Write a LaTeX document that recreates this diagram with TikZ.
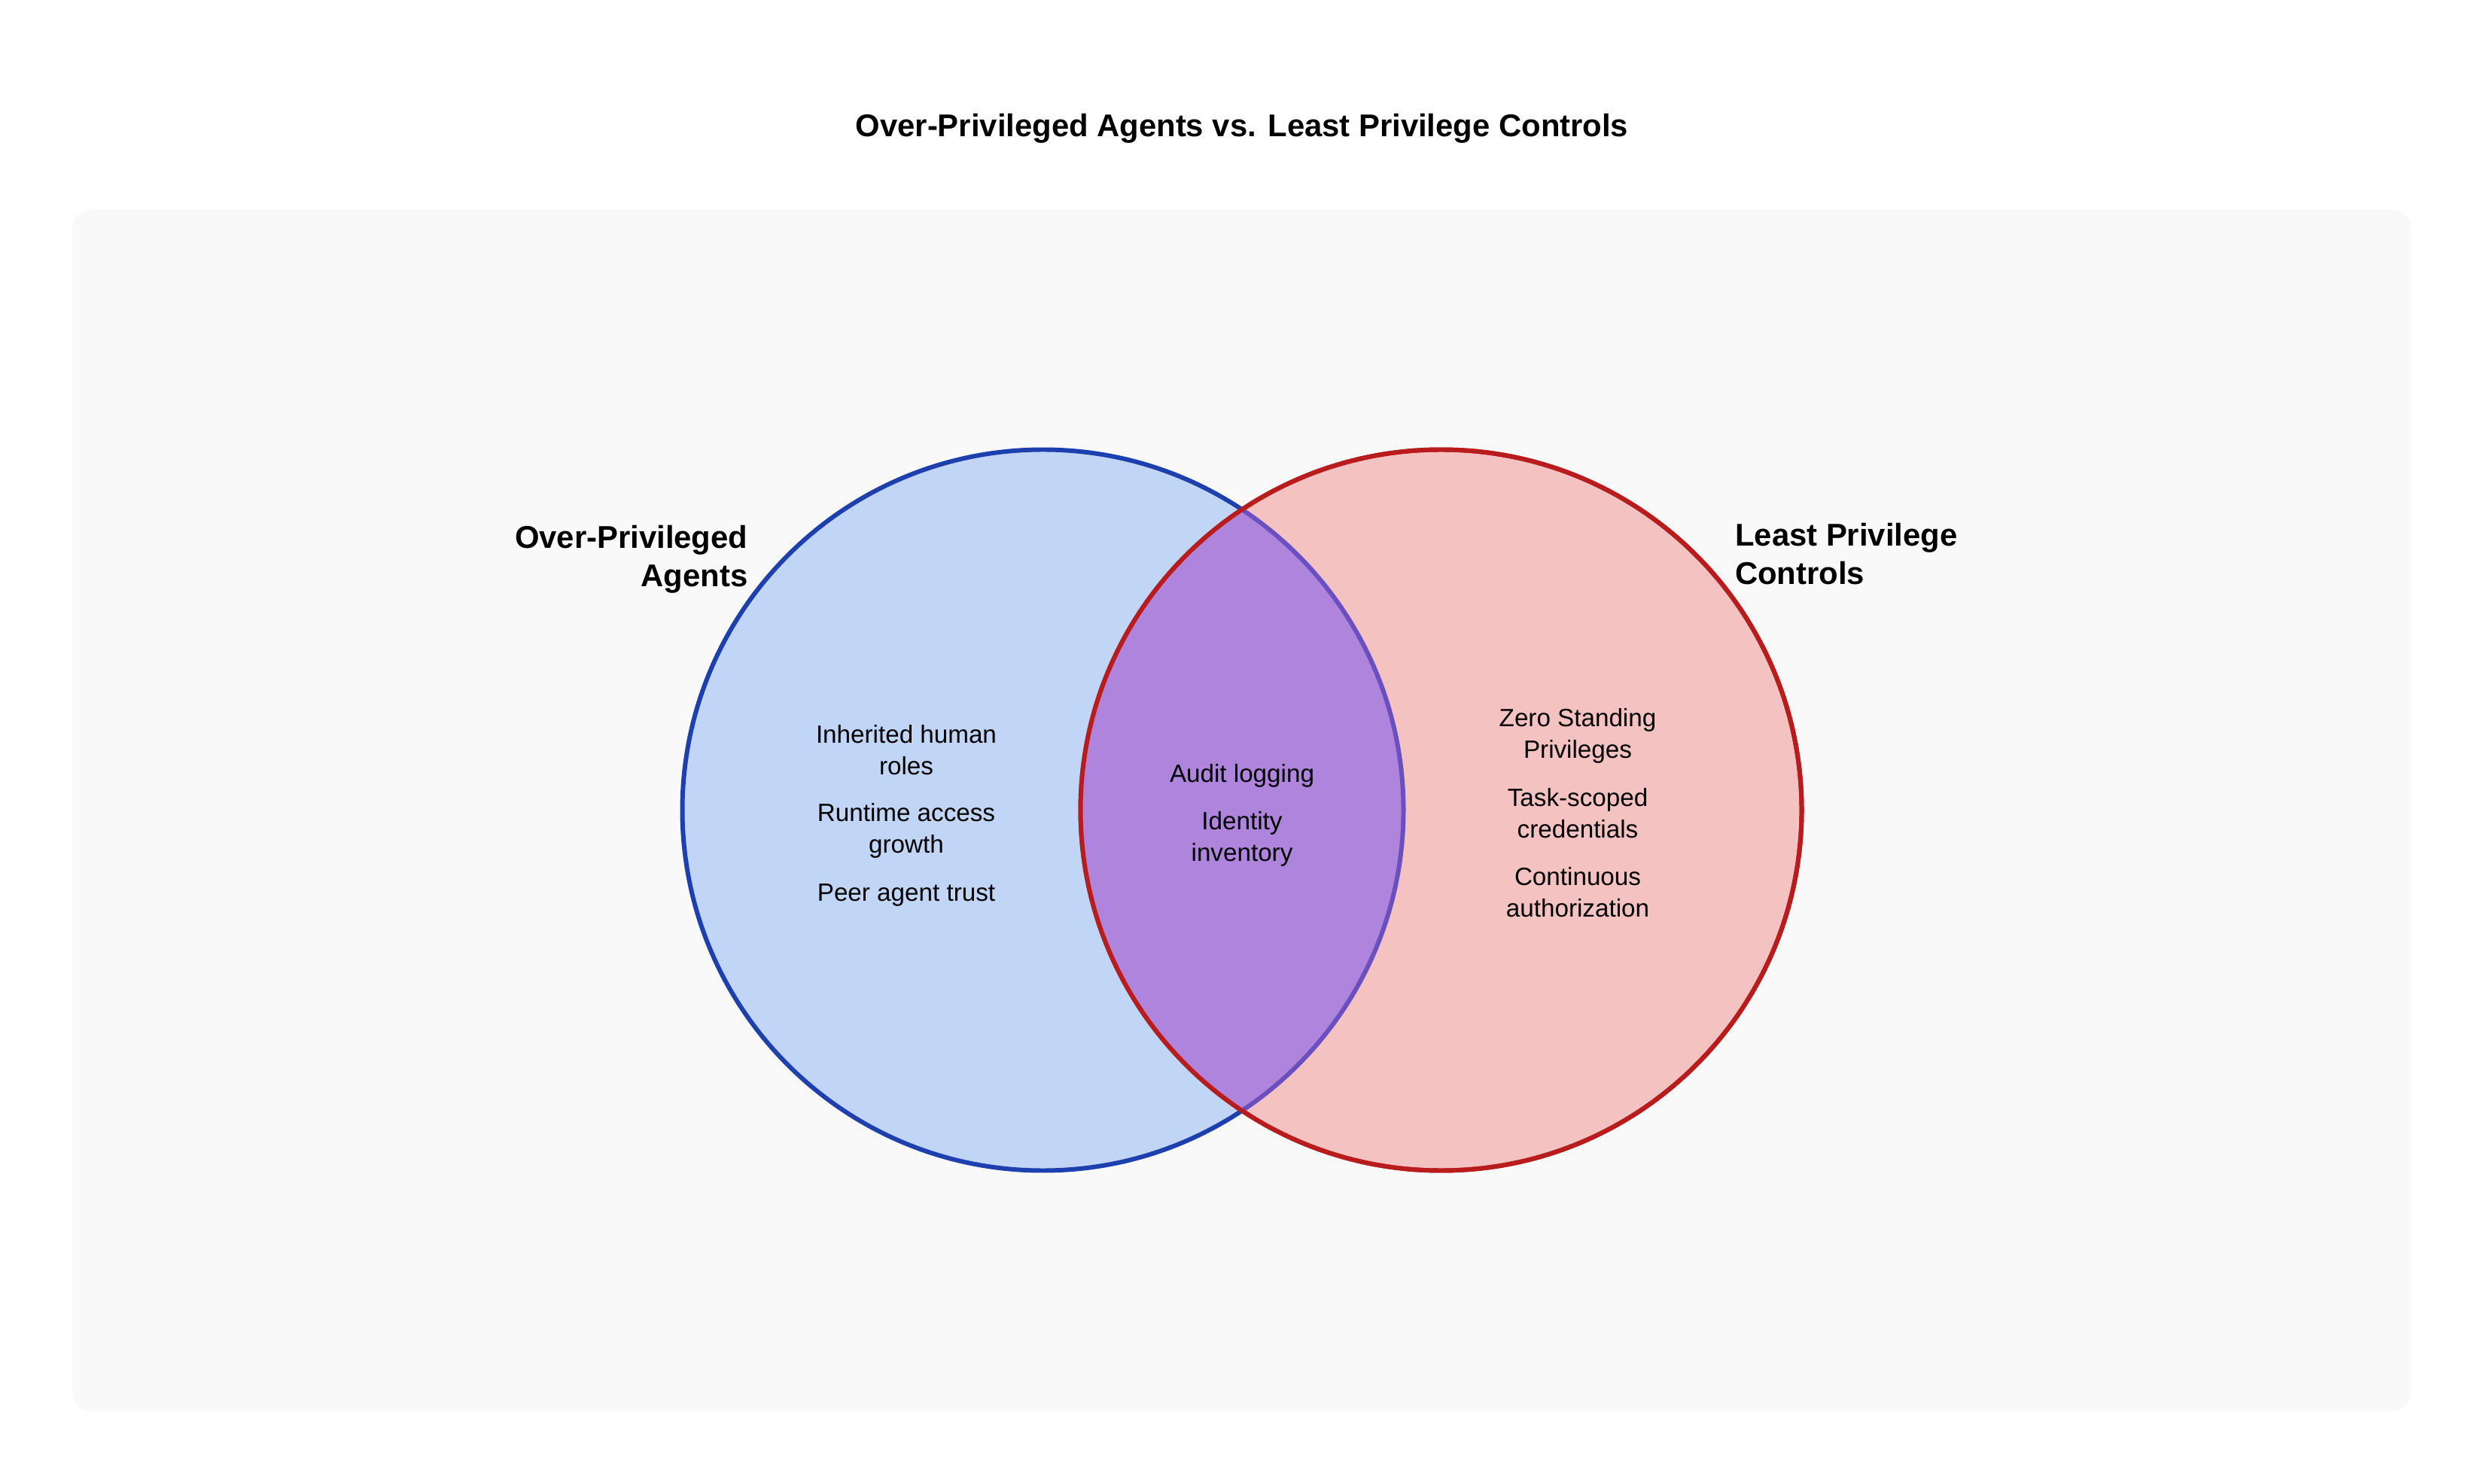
\documentclass[tikz,border=0pt]{standalone}
\usepackage{fontspec}
\setmainfont{Liberation Sans}
\usepackage{xcolor}
\usepackage{tikz}

\definecolor{panelgray}{HTML}{F9F9F9}
\definecolor{agentblue}{HTML}{1E40AF}
\definecolor{agentfill}{HTML}{C1D5F6}
\definecolor{controlred}{HTML}{B91C1C}
\definecolor{controlfill}{HTML}{F5C2C2}
\definecolor{overlapfill}{HTML}{AE84DD}
\definecolor{overlapline}{HTML}{6A50BE}

\begin{document}
\begin{tikzpicture}[set node/.style={circle,minimum size=9.58cm,inner sep=0pt,line width=1.7pt},
  item node/.style={align=center,inner sep=0pt,font=\fontsize{9.45}{11.95}\selectfont},
  head node/.style={inner sep=0pt,font=\bfseries\fontsize{11.9}{14.5}\selectfont}]

  \useasboundingbox[fill=white] (0,0) rectangle (33,19.71);
  \fill[panelgray,rounded corners=0.25cm] (0.96,0.96) rectangle (32.04,16.92);

  \node[head node] (T) at (16.5,18.0) {Over-Privileged Agents vs. Least Privilege Controls};

  \node[set node,draw=agentblue,fill=agentfill] (A) at (13.855,8.945) {};
  \node[set node,draw=controlred,fill=controlfill] (C) at (19.145,8.945) {};
  \begin{scope}
    \clip (A.center) circle (4.79);
    \fill[overlapfill] (C.center) circle (4.79);
  \end{scope}
  \begin{scope}
    \clip (C.center) circle (4.79);
    \draw[overlapline,line width=1.7pt] (A.center) circle (4.79);
  \end{scope}
  \draw[controlred,line width=1.7pt] (C.center) circle (4.79); % red rim stays on top

  \node[head node,align=right,anchor=east] (AL) at (9.94,12.28) {Over-Privileged\\Agents};
  \node[head node,align=left,anchor=west] (CL) at (23.045,12.345) {Least Privilege\\Controls};

  \node[item node] (A1) at (12.04,9.74) {Inherited human\\roles};
  \node[item node] (A2) at (12.04,8.67) {Runtime access\\growth};
  \node[item node] (A3) at (12.04,7.81) {Peer agent trust};

  \node[item node] (M1) at (16.5,9.405) {Audit logging};
  \node[item node] (M2) at (16.5,8.565) {Identity\\inventory};

  \node[item node] (C1) at (20.96,9.93) {Zero Standing\\Privileges};
  \node[item node] (C2) at (20.96,8.90) {Task-scoped\\credentials};
  \node[item node] (C3) at (20.96,7.85) {Continuous\\authorization};
\end{tikzpicture}
\end{document}
